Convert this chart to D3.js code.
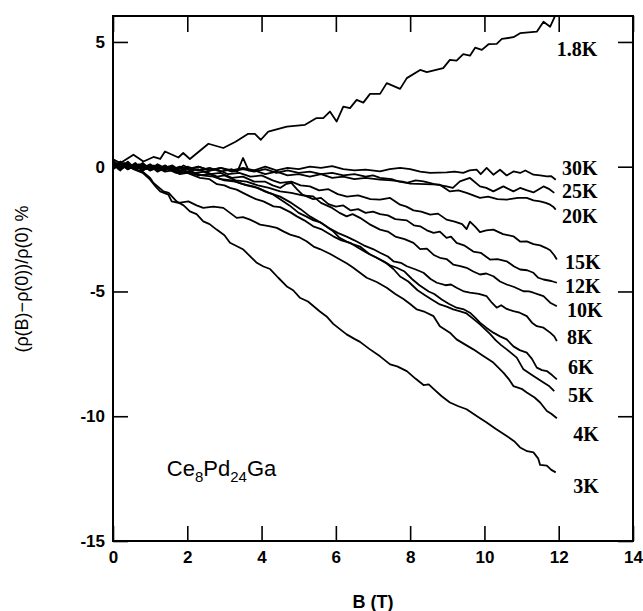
<!DOCTYPE html>
<html>
<head>
<meta charset="utf-8">
<script src="https://cdn.jsdelivr.net/npm/d3@7"></script>
<style>
	body { margin: 0; background: #fff; }
	#chart { width: 643px; height: 611px; }
</style>
</head>
<body>
<div id="chart"></div>
<script>
// temperatures, in the order the labels are stacked on the right
const temps = ["1.8K", "30K", "25K", "20K", "15K", "12K", "10K", "8K", "6K", "5K", "4K", "3K"];

// [B (T), (rho(B)-rho(0))/rho(0) %]
const c1_8K = [[0,0.3],[0.2,0.15],[0.55,0.48],[0.82,0.21],[1.09,0.39],[1.27,0.31],[1.4,0.61],[1.76,0.37],[1.89,0.55],[2.07,0.31],[2.57,0.92],[2.97,0.75],[3.3,1.0],[3.64,1.32],[3.82,1.32],[3.98,1.08],[4.18,1.41],[4.68,1.61],[5.17,1.68],[5.48,1.95],[5.66,1.95],[5.84,2.21],[6.02,1.81],[6.2,2.41],[6.38,2.35],[6.56,2.68],[6.74,2.57],[6.92,2.92],[7.19,2.92],[7.37,3.35],[7.73,3.12],[7.91,3.55],[8.27,3.88],[8.45,3.79],[8.89,3.95],[9.07,4.28],[9.25,4.25],[9.43,4.51],[9.61,4.45],[9.75,4.77],[9.93,4.68],[10.11,4.91],[10.33,4.92],[10.47,5.12],[10.78,5.19],[10.96,5.35],[11.41,5.41],[11.59,5.81],[11.77,5.61],[11.95,6.2]];
const c30K = [[0,0.2],[0.15,-0.1],[0.3,0.15],[0.5,-0.05],[0.7,0.1],[0.9,-0.1],[1.1,0.05],[1.3,-0.1],[1.5,0.0],[1.7,-0.15],[1.9,0.05],[2.1,-0.1],[2.3,0.0],[2.6,-0.15],[2.9,-0.05],[3.2,-0.15],[3.5,-0.05],[3.8,-0.15],[4.1,0.0],[4.4,-0.15],[4.7,-0.05],[5.0,-0.1],[5.3,0.0],[5.6,-0.05],[5.9,0.02],[6.2,-0.1],[6.5,-0.15],[6.8,-0.12],[7.19,-0.19],[7.45,-0.1],[7.73,-0.05],[8.0,-0.1],[8.27,-0.2],[8.54,-0.25],[8.98,-0.23],[9.2,-0.2],[9.43,-0.25],[9.6,-0.15],[9.79,-0.12],[9.9,-0.3],[10.06,-0.05],[10.24,-0.32],[10.42,-0.12],[10.6,-0.35],[10.78,-0.19],[10.96,-0.25],[11.1,-0.15],[11.32,-0.32],[11.5,-0.35],[11.68,-0.39],[11.8,-0.38],[11.92,-0.52]];
const c25K = [[0,-0.05],[0.2,0.15],[0.4,-0.1],[0.6,0.1],[0.8,-0.05],[1.0,0.1],[1.2,-0.1],[1.4,0.05],[1.6,-0.1],[1.8,0.0],[2.0,-0.1],[2.3,0.0],[2.6,-0.15],[2.9,-0.05],[3.2,-0.2],[3.5,-0.1],[3.8,-0.2],[4.1,-0.1],[4.4,-0.25],[4.7,-0.15],[5.0,-0.25],[5.3,-0.2],[5.6,-0.3],[5.9,-0.25],[6.2,-0.35],[6.5,-0.3],[6.8,-0.4],[7.0,-0.35],[7.19,-0.45],[7.5,-0.5],[7.7,-0.6],[7.91,-0.65],[8.15,-0.55],[8.36,-0.59],[8.65,-0.7],[8.98,-0.79],[9.15,-0.85],[9.34,-0.59],[9.61,-0.45],[9.88,-0.79],[10.05,-0.85],[10.24,-0.99],[10.51,-0.79],[10.78,-0.99],[10.96,-0.85],[11.15,-0.95],[11.32,-1.03],[11.59,-0.79],[11.75,-0.9],[11.88,-1.05]];
const c20K = [[0,0.1],[0.2,-0.1],[0.4,0.15],[0.6,-0.1],[0.8,0.05],[1.0,-0.15],[1.2,0.05],[1.4,-0.1],[1.6,0.0],[1.8,-0.2],[2.0,-0.05],[2.3,-0.15],[2.6,-0.05],[2.9,-0.2],[3.2,-0.1],[3.35,-0.2],[3.5,0.35],[3.65,-0.15],[3.8,-0.15],[4.1,-0.3],[4.4,-0.2],[4.7,-0.35],[5.0,-0.3],[5.3,-0.4],[5.6,-0.3],[5.9,-0.45],[6.2,-0.4],[6.5,-0.5],[6.8,-0.45],[7.19,-0.52],[7.5,-0.55],[7.8,-0.6],[8.0,-0.68],[8.4,-0.7],[8.8,-0.72],[9.07,-0.99],[9.3,-0.95],[9.52,-1.05],[9.7,-1.15],[9.88,-1.25],[10.1,-1.2],[10.35,-1.3],[10.6,-1.32],[10.9,-1.25],[11.14,-1.25],[11.32,-1.35],[11.5,-1.39],[11.65,-1.45],[11.77,-1.52],[11.85,-1.6],[11.92,-1.72]];
const c15K = [[0,0.25],[0.2,0.0],[0.4,0.2],[0.6,-0.1],[0.8,0.1],[1.0,-0.1],[1.2,0.1],[1.4,-0.05],[1.6,0.05],[1.8,-0.15],[2.0,0.0],[2.2,-0.1],[2.5,-0.2],[2.8,-0.1],[3.1,-0.3],[3.4,-0.25],[3.7,-0.4],[4.0,-0.35],[4.3,-0.55],[4.5,-0.65],[4.8,-0.6],[5.05,-0.75],[5.3,-0.79],[5.55,-0.95],[5.8,-0.9],[6.05,-1.1],[6.3,-1.2],[6.6,-1.15],[6.93,-1.3],[7.19,-1.32],[7.46,-1.25],[7.73,-1.52],[7.9,-1.6],[8.09,-1.75],[8.3,-1.8],[8.54,-1.92],[8.75,-1.88],[8.98,-2.12],[9.2,-2.2],[9.4,-2.3],[9.52,-2.5],[9.61,-2.2],[9.75,-2.4],[9.88,-2.62],[10.05,-2.55],[10.24,-2.52],[10.5,-2.7],[10.78,-2.79],[10.96,-3.0],[11.14,-2.99],[11.32,-3.1],[11.5,-3.15],[11.65,-3.25],[11.77,-3.35],[11.88,-3.55],[11.95,-3.72]];
const c12K = [[0,-0.05],[0.2,0.2],[0.4,-0.05],[0.6,0.15],[0.8,-0.1],[1.0,0.05],[1.2,-0.1],[1.4,0.05],[1.6,-0.15],[1.8,-0.05],[2.0,-0.2],[2.3,-0.1],[2.6,-0.3],[2.9,-0.25],[3.2,-0.45],[3.5,-0.4],[3.8,-0.6],[4.1,-0.6],[4.3,-0.75],[4.5,-0.85],[4.65,-0.7],[4.8,-0.65],[4.95,-0.9],[5.1,-1.12],[5.39,-1.3],[5.6,-1.25],[5.8,-1.5],[6.0,-1.6],[6.2,-1.55],[6.4,-1.75],[6.6,-1.7],[6.8,-1.85],[7.0,-1.8],[7.19,-1.9],[7.4,-1.95],[7.6,-2.1],[7.91,-2.15],[8.1,-2.35],[8.27,-2.39],[8.45,-2.55],[8.63,-2.65],[8.8,-2.6],[8.98,-2.85],[9.1,-2.8],[9.25,-3.05],[9.45,-3.15],[9.7,-3.4],[9.9,-3.45],[10.15,-3.72],[10.35,-3.7],[10.6,-3.79],[10.8,-4.0],[10.96,-4.12],[11.15,-4.15],[11.32,-4.25],[11.45,-4.45],[11.59,-4.52],[11.8,-4.58],[11.95,-4.65]];
const c10K = [[0,0.15],[0.2,-0.1],[0.4,0.1],[0.6,-0.05],[0.8,0.15],[1.0,-0.1],[1.2,0.05],[1.4,-0.15],[1.6,0.0],[1.8,-0.2],[2.0,-0.1],[2.2,-0.25],[2.5,-0.2],[2.8,-0.4],[3.0,-0.35],[3.3,-0.55],[3.6,-0.6],[3.9,-0.75],[4.2,-0.85],[4.5,-0.99],[4.8,-1.05],[5.1,-1.15],[5.39,-1.19],[5.6,-1.45],[5.9,-1.65],[6.1,-1.85],[6.29,-1.99],[6.45,-1.9],[6.65,-2.05],[6.9,-2.3],[7.19,-2.52],[7.4,-2.6],[7.6,-2.8],[7.85,-2.9],[8.09,-3.05],[8.27,-3.3],[8.45,-3.28],[8.65,-3.55],[8.8,-3.65],[8.98,-3.7],[9.16,-3.92],[9.35,-3.98],[9.52,-4.05],[9.7,-4.2],[9.88,-4.32],[10.05,-4.28],[10.24,-4.39],[10.42,-4.6],[10.6,-4.72],[10.8,-4.82],[11.05,-4.99],[11.2,-5.0],[11.32,-5.05],[11.45,-5.12],[11.59,-5.19],[11.77,-5.45],[11.95,-5.59]];
const c8K = [[0,-0.1],[0.2,0.1],[0.4,-0.1],[0.6,0.05],[0.8,-0.15],[1.0,0.05],[1.2,-0.2],[1.4,-0.05],[1.7,-0.25],[2.0,-0.2],[2.3,-0.35],[2.6,-0.3],[2.9,-0.5],[3.2,-0.55],[3.5,-0.7],[3.8,-0.8],[4.1,-1.0],[4.3,-1.1],[4.5,-1.3],[4.75,-1.55],[5.0,-1.85],[5.21,-2.0],[5.4,-2.15],[5.57,-2.22],[5.8,-2.45],[6.05,-2.65],[6.29,-2.8],[6.5,-2.95],[6.75,-3.15],[7.0,-3.3],[7.19,-3.45],[7.4,-3.6],[7.55,-3.79],[7.75,-3.85],[7.91,-3.99],[8.15,-4.12],[8.36,-4.25],[8.55,-4.5],[8.72,-4.65],[8.95,-4.75],[9.1,-4.72],[9.25,-4.85],[9.45,-5.0],[9.61,-5.05],[9.85,-5.1],[10.06,-5.19],[10.2,-5.45],[10.33,-5.65],[10.45,-5.55],[10.6,-5.7],[10.78,-5.79],[10.95,-5.85],[11.14,-5.99],[11.28,-6.25],[11.41,-6.39],[11.59,-6.45],[11.77,-6.65],[11.88,-6.8],[11.95,-6.99]];
const c6K = [[0,0.05],[0.2,0.2],[0.4,-0.1],[0.6,0.05],[0.8,-0.15],[1.0,0.0],[1.2,-0.15],[1.5,-0.1],[1.8,-0.25],[2.1,-0.2],[2.4,-0.35],[2.7,-0.4],[3.0,-0.55],[3.3,-0.6],[3.6,-0.75],[3.9,-0.85],[4.2,-1.05],[4.5,-1.2],[4.8,-1.45],[5.05,-1.7],[5.3,-1.99],[5.6,-2.25],[5.93,-2.59],[6.1,-2.85],[6.29,-3.0],[6.45,-3.1],[6.65,-3.2],[6.9,-3.5],[7.1,-3.65],[7.3,-3.8],[7.46,-3.95],[7.64,-4.05],[7.85,-4.2],[8.05,-4.5],[8.25,-4.75],[8.5,-5.0],[8.65,-5.1],[8.85,-5.32],[9.05,-5.5],[9.25,-5.65],[9.45,-5.72],[9.61,-5.85],[9.75,-6.05],[9.88,-6.25],[10.05,-6.45],[10.24,-6.65],[10.42,-6.8],[10.6,-6.92],[10.78,-7.2],[10.95,-7.35],[11.14,-7.45],[11.28,-7.7],[11.41,-8.05],[11.55,-8.15],[11.68,-8.19],[11.82,-8.35],[11.95,-8.52]];
const c5K = [[0,0.1],[0.2,-0.15],[0.4,0.15],[0.6,-0.05],[0.8,0.1],[1.0,-0.15],[1.2,-0.05],[1.4,-0.2],[1.6,-0.15],[1.8,-0.3],[2.0,-0.25],[2.34,-0.45],[2.6,-0.5],[2.8,-0.7],[3.0,-0.75],[3.15,-0.85],[3.33,-0.92],[3.5,-1.05],[3.69,-1.19],[3.85,-1.3],[4.05,-1.39],[4.2,-1.5],[4.32,-1.59],[4.5,-1.62],[4.77,-1.82],[4.95,-1.99],[5.15,-2.15],[5.39,-2.39],[5.6,-2.5],[5.93,-2.79],[6.15,-2.95],[6.38,-3.05],[6.6,-3.25],[6.83,-3.45],[7.1,-3.65],[7.37,-3.88],[7.55,-4.1],[7.73,-4.4],[7.95,-4.6],[8.2,-4.95],[8.4,-5.15],[8.58,-5.32],[8.8,-5.52],[9.0,-5.62],[9.16,-5.72],[9.35,-5.8],[9.52,-5.88],[9.7,-6.1],[9.88,-6.32],[10.15,-6.7],[10.3,-6.95],[10.45,-7.15],[10.6,-7.32],[10.87,-7.65],[11.05,-8.12],[11.32,-8.39],[11.59,-8.65],[11.75,-8.8],[11.88,-8.99]];
const c4K = [[0,0.2],[0.15,-0.05],[0.35,0.1],[0.55,-0.1],[0.8,-0.25],[1.0,-0.52],[1.15,-0.8],[1.27,-0.99],[1.49,-1.12],[1.58,-1.39],[1.76,-1.45],[1.9,-1.42],[2.03,-1.39],[2.25,-1.55],[2.43,-1.65],[2.7,-1.6],[2.97,-1.65],[3.15,-1.85],[3.33,-2.05],[3.5,-2.02],[3.69,-2.12],[3.96,-2.32],[4.2,-2.38],[4.41,-2.45],[4.6,-2.6],[4.77,-2.72],[5.0,-2.82],[5.21,-2.99],[5.4,-3.2],[5.57,-3.3],[5.85,-3.5],[6.11,-3.72],[6.3,-3.88],[6.47,-4.05],[6.65,-4.25],[6.83,-4.45],[7.1,-4.62],[7.37,-4.85],[7.6,-5.1],[7.82,-5.3],[8.0,-5.5],[8.18,-5.72],[8.4,-5.82],[8.63,-5.99],[8.8,-6.39],[9.07,-6.65],[9.25,-6.92],[9.45,-7.1],[9.7,-7.32],[9.97,-7.59],[10.24,-7.85],[10.51,-8.25],[10.65,-8.5],[10.78,-8.79],[11.0,-8.9],[11.14,-9.05],[11.35,-9.25],[11.5,-9.45],[11.68,-9.79],[11.8,-9.9],[11.95,-10.08]];
const c3K = [[0,0.1],[0.2,-0.1],[0.4,0.05],[0.6,-0.1],[0.8,-0.2],[1.0,-0.45],[1.09,-0.65],[1.36,-0.99],[1.5,-1.05],[1.71,-1.39],[1.9,-1.55],[2.07,-1.79],[2.25,-1.9],[2.43,-2.19],[2.6,-2.3],[2.79,-2.52],[3.0,-2.75],[3.15,-3.05],[3.35,-3.2],[3.51,-3.32],[3.7,-3.6],[3.87,-3.85],[4.05,-4.0],[4.23,-4.1],[4.45,-4.45],[4.68,-4.8],[4.85,-4.95],[5.03,-5.25],[5.25,-5.4],[5.57,-5.8],[5.75,-6.0],[5.93,-6.3],[6.1,-6.5],[6.29,-6.72],[6.5,-6.9],[6.65,-7.02],[6.9,-7.3],[7.19,-7.6],[7.46,-7.92],[7.65,-8.0],[7.91,-8.19],[8.15,-8.5],[8.36,-8.75],[8.5,-8.72],[8.63,-8.9],[8.85,-9.2],[9.07,-9.45],[9.3,-9.6],[9.52,-9.72],[9.8,-10.0],[10.06,-10.25],[10.3,-10.5],[10.6,-10.79],[10.8,-11.0],[10.96,-11.25],[11.15,-11.4],[11.32,-11.45],[11.45,-11.7],[11.5,-11.95],[11.68,-11.98],[11.8,-12.15],[11.92,-12.25]];

const curves = [c1_8K, c30K, c25K, c20K, c15K, c12K, c10K, c8K, c6K, c5K, c4K, c3K];

const xTicks = [0, 2, 4, 6, 8, 10, 12, 14];
const yTicks = [-15, -10, -5, 0, 5];

// where each temperature label sits, in data units (layout, not data)
const labelAt = {
	"1.8K": [11.95, 4.72], "30K": [12.09, -0.04], "25K": [12.09, -0.96], "20K": [12.09, -1.96],
	"15K": [12.17, -3.8], "12K": [12.17, -4.8], "10K": [12.22, -5.76], "8K": [12.22, -6.84],
	"6K": [12.25, -8.04], "5K": [12.25, -9.16], "4K": [12.39, -10.72], "3K": [12.39, -12.8]
};

let width = 643, height = 611;
let margin = {top: 16, right: 10, bottom: 70, left: 113};

let svg = d3.select("#chart").append("svg")
	.attr("width", width)
	.attr("height", height);

let x = d3.scaleLinear()
	.domain([0, 14])
	.range([margin.left, width - margin.right]);

let y = d3.scaleLinear()
	.domain([-15, 6.04])
	.range([height - margin.bottom, margin.top]);

svg.append("defs").append("clipPath")
	.attr("id", "plot")
	.append("rect")
	.attr("x", x(0))
	.attr("y", y(6.04))
	.attr("width", x(14) - x(0))
	.attr("height", y(-15) - y(6.04));

let tickFont = "bold 17px 'Liberation Sans', Arial, sans-serif";

// inward ticks on all four sides, labels only bottom and left
svg.append("g")
	.attr("transform", `translate(0,${y(-15)})`)
	.call(d3.axisBottom(x).tickValues(xTicks).tickSize(-15).tickPadding(10).tickFormat(d3.format("d")))
	.call(g => g.select(".domain").remove());

svg.append("g")
	.attr("transform", `translate(${x(0)},0)`)
	.call(d3.axisLeft(y).tickValues(yTicks).tickSize(-15).tickPadding(8).tickFormat(d => d < 0 ? "-" + (-d) : d))
	.call(g => g.select(".domain").remove());

svg.append("g")
	.attr("transform", `translate(0,${y(6.04)})`)
	.call(d3.axisTop(x).tickValues(xTicks).tickSize(-16).tickFormat(""))
	.call(g => g.select(".domain").remove());

svg.append("g")
	.attr("transform", `translate(${x(14)},0)`)
	.call(d3.axisRight(y).tickValues(yTicks).tickSize(-15).tickFormat(""))
	.call(g => g.select(".domain").remove());

svg.selectAll(".tick line")
	.attr("stroke", "#000")
	.attr("stroke-width", 1.6);

svg.selectAll(".tick text")
	.style("font", tickFont)
	.attr("fill", "#000");

svg.append("rect")
	.attr("x", x(0))
	.attr("y", y(6.04))
	.attr("width", x(14) - x(0))
	.attr("height", y(-15) - y(6.04))
	.attr("fill", "none")
	.attr("stroke", "#000")
	.attr("stroke-width", 2);

let line = d3.line()
	.x(d => x(d[0]))
	.y(d => y(d[1]));

svg.append("g")
	.attr("clip-path", "url(#plot)")
	.selectAll("path")
	.data(curves).enter()
	.append("path")
	.attr("d", line)
	.attr("fill", "none")
	.attr("stroke", "#000")
	.attr("stroke-width", 1.8)
	.attr("stroke-linejoin", "round");

svg.append("g")
	.selectAll("text")
	.data(temps).enter()
	.append("text")
	.attr("x", d => x(labelAt[d][0]))
	.attr("y", d => y(labelAt[d][1]))
	.attr("dy", "0.35em")
	.style("font", "bold 20px 'Liberation Serif', 'Times New Roman', serif")
	.text(d => d);

let formula = svg.append("text")
	.attr("x", x(1.45))
	.attr("y", y(-12.4))
	.style("font", "22px 'Liberation Sans', Arial, sans-serif");
formula.append("tspan").text("Ce");
formula.append("tspan").attr("dy", 6).style("font-size", "15px").text("8");
formula.append("tspan").attr("dy", -6).text("Pd");
formula.append("tspan").attr("dy", 6).style("font-size", "15px").text("24");
formula.append("tspan").attr("dy", -6).text("Ga");

svg.append("text")
	.attr("x", x(7))
	.attr("y", 608)
	.attr("text-anchor", "middle")
	.style("font", "bold 18px 'Liberation Sans', Arial, sans-serif")
	.text("B (T)");

svg.append("text")
	.attr("transform", `translate(28,${y(-4.5)}) rotate(-90)`)
	.attr("text-anchor", "middle")
	.style("font", "18px 'Liberation Sans', Arial, sans-serif")
	.text("(ρ(B)−ρ(0))/ρ(0) %");
</script>
</body>
</html>
